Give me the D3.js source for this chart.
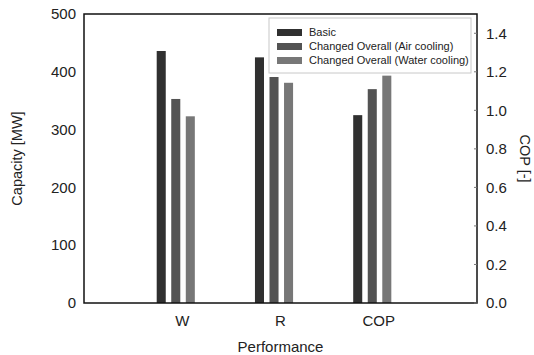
<!DOCTYPE html>
<html>
<head>
<meta charset="utf-8">
<script src="https://cdn.jsdelivr.net/npm/d3@7"></script>
<style>
  body { margin: 0; background: #fff; }
  text { font-family: Arial, "Liberation Sans", sans-serif; fill: #222; }
</style>
</head>
<body>
<svg id="chart"></svg>
<script>
// Chart data
const categories = ["W", "R", "COP"];
const seriesNames = ["Basic", "Changed Overall (Air cooling)", "Changed Overall (Water cooling)"];
const seriesColors = ["#303030", "#535353", "#777777"];
// W and R on capacity axis [MW], COP on right axis [-]
const basicValues = [436, 425, 0.975];
const airValues = [353, 391, 1.11];
const waterValues = [323, 381, 1.18];
const leftTicks = [0, 100, 200, 300, 400, 500];
const rightTicks = [0, 0.2, 0.4, 0.6, 0.8, 1.0, 1.2, 1.4];

const width = 534;
const height = 355;
const margin = { top: 14, right: 57, bottom: 52, left: 84 };

const svg = d3.select("#chart").attr("width", width).attr("height", height);

const x = d3.scaleLinear().domain([0, categories.length + 1])
  .range([margin.left, width - margin.right]);
const yLeft = d3.scaleLinear().domain([0, 500])
  .range([height - margin.bottom, margin.top]);
const yRight = d3.scaleLinear().domain([0, 1.5])
  .range([height - margin.bottom, margin.top]);

const series = [basicValues, airValues, waterValues];
const barWidth = 0.092;
const barStep = 0.148;
const groupShift = -0.066;
const yFor = (d, i) => categories[i] === "COP" ? yRight(d) : yLeft(d);

// Bars
series.forEach((vals, s) => {
  svg.append("g")
    .selectAll("rect")
    .data(vals)
    .enter()
    .append("rect")
    .attr("x", (d, i) => x(i + 1 + groupShift + (s - 1) * barStep - barWidth / 2))
    .attr("width", x(barWidth) - x(0))
    .attr("y", yFor)
    .attr("height", (d, i) => (height - margin.bottom) - yFor(d, i))
    .attr("fill", seriesColors[s]);
});

// Frame
svg.append("rect")
  .attr("x", margin.left)
  .attr("y", margin.top)
  .attr("width", width - margin.left - margin.right)
  .attr("height", height - margin.top - margin.bottom)
  .attr("fill", "none")
  .attr("stroke", "#111")
  .attr("stroke-width", 1.5);

// Left axis labels
svg.append("g")
  .selectAll("text")
  .data(leftTicks)
  .enter()
  .append("text")
  .attr("x", margin.left - 8)
  .attr("y", (d) => yLeft(d))
  .attr("dy", "0.35em")
  .attr("text-anchor", "end")
  .attr("font-size", 15)
  .text((d) => d);

// Right axis ticks (inward) and labels
const rightX = width - margin.right;
svg.append("g")
  .selectAll("line")
  .data(rightTicks)
  .enter()
  .append("line")
  .attr("x1", rightX - 3)
  .attr("x2", rightX)
  .attr("y1", (d) => yRight(d))
  .attr("y2", (d) => yRight(d))
  .attr("stroke", "#777")
  .attr("stroke-width", 1);

svg.append("g")
  .selectAll("text")
  .data(rightTicks)
  .enter()
  .append("text")
  .attr("x", rightX + 9)
  .attr("y", (d) => yRight(d))
  .attr("dy", "0.35em")
  .attr("text-anchor", "start")
  .attr("font-size", 15)
  .text((d) => d3.format(".1f")(d));

// Category labels
svg.append("g")
  .selectAll("text")
  .data(categories)
  .enter()
  .append("text")
  .attr("x", (d, i) => x(i + 1))
  .attr("y", 326)
  .attr("text-anchor", "middle")
  .attr("font-size", 15)
  .text((d) => d);

// Axis titles
svg.append("text")
  .attr("x", (margin.left + width - margin.right) / 2)
  .attr("y", 352)
  .attr("text-anchor", "middle")
  .attr("font-size", 15)
  .text("Performance");

svg.append("text")
  .attr("transform", `translate(22,${(margin.top + height - margin.bottom) / 2}) rotate(-90)`)
  .attr("text-anchor", "middle")
  .attr("font-size", 14.5)
  .text("Capacity [MW]");

svg.append("text")
  .attr("transform", `translate(520,${(margin.top + height - margin.bottom) / 2}) rotate(90)`)
  .attr("text-anchor", "middle")
  .attr("font-size", 14.5)
  .text("COP [-]");

// Legend
const legend = svg.append("g").attr("transform", "translate(269,18)");
legend.append("rect")
  .attr("width", 202)
  .attr("height", 55)
  .attr("fill", "#fff")
  .attr("stroke", "#c8c8c8")
  .attr("stroke-width", 1);

seriesNames.forEach((name, i) => {
  const row = legend.append("g").attr("transform", `translate(8,${14.5 + i * 14})`);
  row.append("rect")
    .attr("x", 0)
    .attr("y", -3.5)
    .attr("width", 25)
    .attr("height", 7)
    .attr("fill", seriesColors[i]);
  row.append("text")
    .attr("x", 32)
    .attr("dy", "0.35em")
    .attr("font-size", 11)
    .text(name);
});
</script>
</body>
</html>
